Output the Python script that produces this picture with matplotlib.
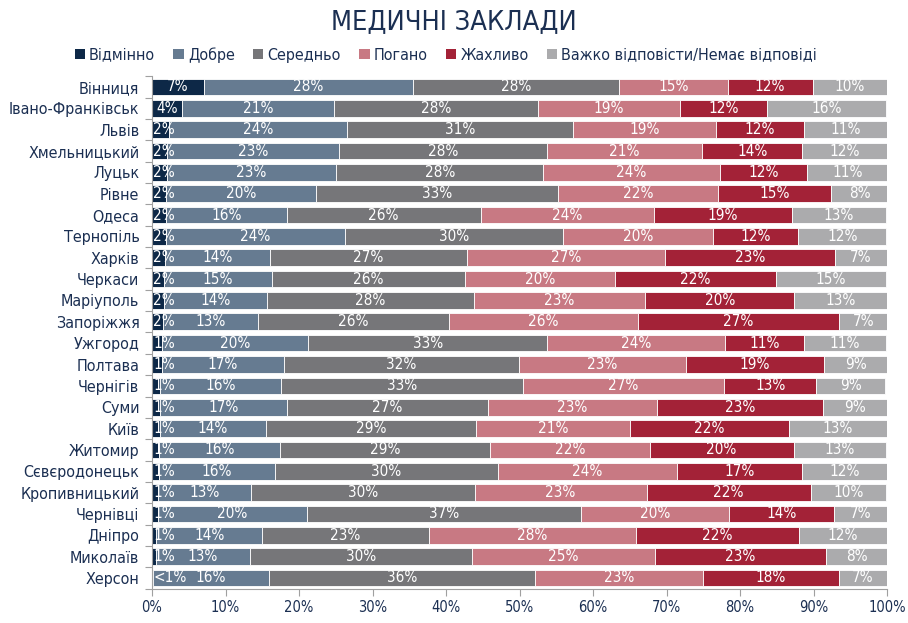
import matplotlib
matplotlib.use("Agg")
import numpy as np
import matplotlib.pyplot as plt
from matplotlib.patches import Patch

plt.rcParams['font.family'] = ['DejaVu Sans']
plt.rcParams['font.stretch'] = 'condensed'

cities = ["Вінниця", "Івано-Франківськ", "Львів", "Хмельницький", "Луцьк", "Рівне",
          "Одеса", "Тернопіль", "Харків", "Черкаси", "Маріуполь", "Запоріжжя",
          "Ужгород", "Полтава", "Чернігів", "Суми", "Київ", "Житомир",
          "Сєвєродонецьк", "Кропивницький", "Чернівці", "Дніпро", "Миколаїв", "Херсон"]

categories = ["Відмінно", "Добре", "Середньо", "Погано", "Жахливо",
              "Важко відповісти/Немає відповіді"]

excellent = [7.1, 4.1, 2.3, 2.1, 2.0, 1.9, 1.9, 1.9, 1.8, 1.6, 1.6, 1.5,
             1.3, 1.3, 1.1, 1.1, 1.1, 1.0, 1.0, 0.8, 0.8, 0.6, 0.6, 0.2]
good = [28.4, 20.7, 24.2, 23.3, 23.1, 20.4, 16.4, 24.4, 14.2, 14.7, 14.1, 12.9,
        19.9, 16.6, 16.4, 17.2, 14.4, 16.4, 15.7, 12.7, 20.3, 14.4, 12.7, 15.7]
average = [28.1, 27.7, 30.8, 28.4, 28.1, 33.0, 26.4, 29.6, 26.9, 26.3, 28.1, 26.0,
           32.6, 32.0, 33.0, 27.4, 28.6, 28.6, 30.4, 30.4, 37.3, 22.7, 30.3, 36.2]
poor = [14.7, 19.4, 19.4, 21.0, 24.1, 21.7, 23.6, 20.4, 26.9, 20.4, 23.3, 25.7,
        24.2, 22.7, 27.3, 23.0, 20.9, 21.7, 24.3, 23.4, 20.1, 28.1, 24.8, 22.9]
terrible = [11.6, 11.8, 12.0, 13.7, 11.8, 15.4, 18.8, 11.6, 23.1, 21.9, 20.3, 27.4,
            10.7, 18.8, 12.6, 22.6, 21.6, 19.6, 17.0, 22.3, 14.3, 22.2, 23.3, 18.4]
no_answer = [10.1, 16.2, 11.4, 11.6, 11.0, 7.7, 12.7, 12.0, 7.1, 15.0, 12.6, 6.6,
             11.2, 8.7, 9.3, 8.8, 13.4, 12.6, 11.7, 10.3, 7.3, 12.0, 8.4, 6.6]

colors = ["#0d2847", "#667b91", "#767679", "#c87983", "#a32237", "#ababad"]
navy = "#1b2f52"

series = [excellent, good, average, poor, terrible, no_answer]

fig = plt.figure(figsize=(9.08, 6.23), dpi=100)
ax = fig.add_axes([0.1674, 0.0551, 0.8095, 0.8224])

y = np.arange(len(cities))
left = np.zeros(len(cities))
for vals, col, name in zip(series, colors, categories):
    vals = np.array(vals)
    ax.barh(y, vals, left=left, height=0.78, color=col, edgecolor="white",
            linewidth=0.6, label=name)
    for i, v in enumerate(vals):
        txt = "<1%" if v < 0.5 else f"{int(round(v))}%"
        if v < 3:
            ax.text(left[i] + 0.15, y[i], txt, ha="left", va="center",
                    color="white", fontsize=11)
        else:
            ax.text(left[i] + v / 2, y[i], txt, ha="center", va="center",
                    color="white", fontsize=11)
    left += vals

ax.set_xlim(0, 100)
ax.set_ylim(len(cities) - 0.5, -0.5)
ax.set_yticks(y)
ax.set_yticklabels(cities, fontsize=11.5, color=navy)
ax.tick_params(axis="y", length=0, pad=9)
ax.set_yticks(np.arange(-0.5, len(cities)), minor=True)
ax.tick_params(axis="y", which="minor", length=5, color="#a0a0a0", width=0.8)
ax.set_xticks(np.arange(0, 101, 10))
ax.set_xticklabels([f"{v}%" for v in range(0, 101, 10)], fontsize=10.5, color=navy)
ax.tick_params(axis="x", length=5, color="#a0a0a0", width=0.8)

for s in ["top", "right"]:
    ax.spines[s].set_visible(False)
for s in ["left", "bottom"]:
    ax.spines[s].set_color("#a0a0a0")
    ax.spines[s].set_linewidth(0.8)

fig.text(0.5, 0.965, "МЕДИЧНІ ЗАКЛАДИ", ha="center", va="center",
         fontsize=19.5, color=navy)

handles = [Patch(facecolor=c, edgecolor="none") for c in colors]
fig.legend(handles, categories, loc="center", bbox_to_anchor=(0.491, 0.912),
           ncol=6, frameon=False, fontsize=11.5, handlelength=0.65,
           handleheight=0.65, handletextpad=0.25, columnspacing=1.15,
           labelcolor=navy)

fig.savefig("out.png", dpi=100)
